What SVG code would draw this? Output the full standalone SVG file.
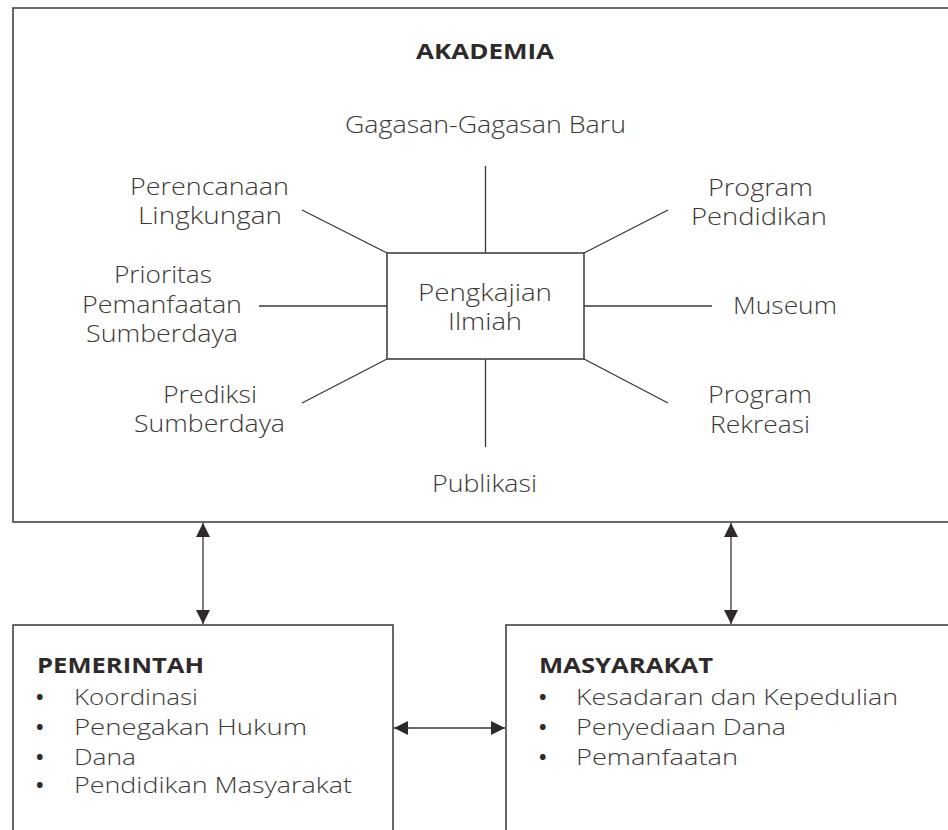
<svg xmlns="http://www.w3.org/2000/svg" width="948" height="830" viewBox="0 0 948 830">
<style>
.box{fill:#fff;stroke:#3a3636;stroke-width:1.5}
.ln{stroke:#3a3636;stroke-width:1.3;fill:none}
text{font-family:"Open Sans","Noto Sans",sans-serif}
.t{font-weight:300;font-size:23px;fill:#3d3939}
.li{font-weight:300;font-size:22px;fill:#3d3939}
.bu{font-weight:700;font-size:20px;fill:#2e2a2a}
.b{font-weight:700;font-size:22px;fill:#2e2a2a}
</style>
<defs>
<marker id="ah" viewBox="0 0 14 14" refX="14" refY="7" markerWidth="14" markerHeight="14" markerUnits="userSpaceOnUse" orient="auto-start-reverse">
<path d="M0,0 L14,7 L0,14 z" fill="#2e2a2a"/>
</marker>
</defs>
<rect width="948" height="830" fill="#fff"/>
<g id="akademia">
<rect class="box" x="13" y="8" width="950" height="514"/>
<text class="b" x="416" y="59" textLength="138" lengthAdjust="spacingAndGlyphs">AKADEMIA</text>
</g>
<g id="pengkajian">
<rect class="box" x="387" y="253" width="197" height="106"/>
<text class="t" x="418" y="301" textLength="134" lengthAdjust="spacingAndGlyphs">Pengkajian</text>
<text class="t" x="448" y="330" textLength="74" lengthAdjust="spacingAndGlyphs">Ilmiah</text>
</g>
<g id="gagasan"><text class="t" x="345" y="133" textLength="281" lengthAdjust="spacingAndGlyphs">Gagasan-Gagasan Baru</text></g>
<g id="perencanaan"><text class="t" x="130" y="195" textLength="159" lengthAdjust="spacingAndGlyphs">Perencanaan</text><text class="t" x="138" y="224" textLength="144" lengthAdjust="spacingAndGlyphs">Lingkungan</text></g>
<g id="prioritas"><text class="t" x="114" y="283" textLength="98" lengthAdjust="spacingAndGlyphs">Prioritas</text><text class="t" x="82" y="313" textLength="160" lengthAdjust="spacingAndGlyphs">Pemanfaatan</text><text class="t" x="86" y="342" textLength="152" lengthAdjust="spacingAndGlyphs">Sumberdaya</text></g>
<g id="prediksi"><text class="t" x="163" y="403" textLength="94" lengthAdjust="spacingAndGlyphs">Prediksi</text><text class="t" x="134" y="432" textLength="151" lengthAdjust="spacingAndGlyphs">Sumberdaya</text></g>
<g id="program-pendidikan"><text class="t" x="708" y="196" textLength="105" lengthAdjust="spacingAndGlyphs">Program</text><text class="t" x="691" y="225" textLength="136" lengthAdjust="spacingAndGlyphs">Pendidikan</text></g>
<g id="museum"><text class="t" x="733" y="314" textLength="104" lengthAdjust="spacingAndGlyphs">Museum</text></g>
<g id="program-rekreasi"><text class="t" x="708" y="403" textLength="104" lengthAdjust="spacingAndGlyphs">Program</text><text class="t" x="710" y="433" textLength="100" lengthAdjust="spacingAndGlyphs">Rekreasi</text></g>
<g id="publikasi"><text class="t" x="432" y="492" textLength="105" lengthAdjust="spacingAndGlyphs">Publikasi</text></g>
<g id="pemerintah">
<rect class="box" x="13" y="625" width="380" height="230"/>
<text class="b" x="37" y="673" textLength="167" lengthAdjust="spacingAndGlyphs">PEMERINTAH</text>
<text class="bu" x="36" y="704">•</text><text class="li" x="74" y="705" textLength="124" lengthAdjust="spacingAndGlyphs">Koordinasi</text>
<text class="bu" x="36" y="734">•</text><text class="li" x="74" y="735" textLength="233" lengthAdjust="spacingAndGlyphs">Penegakan Hukum</text>
<text class="bu" x="36" y="764">•</text><text class="li" x="74" y="765" textLength="62" lengthAdjust="spacingAndGlyphs">Dana</text>
<text class="bu" x="36" y="792">•</text><text class="li" x="74" y="793" textLength="278" lengthAdjust="spacingAndGlyphs">Pendidikan Masyarakat</text>
</g>
<g id="masyarakat">
<rect class="box" x="506" y="625" width="460" height="230"/>
<text class="b" x="539" y="673" textLength="174" lengthAdjust="spacingAndGlyphs">MASYARAKAT</text>
<text class="bu" x="539" y="704">•</text><text class="li" x="576" y="705" textLength="322" lengthAdjust="spacingAndGlyphs">Kesadaran dan Kepedulian</text>
<text class="bu" x="539" y="734">•</text><text class="li" x="576" y="735" textLength="210" lengthAdjust="spacingAndGlyphs">Penyediaan Dana</text>
<text class="bu" x="539" y="764">•</text><text class="li" x="576" y="765" textLength="162" lengthAdjust="spacingAndGlyphs">Pemanfaatan</text>
</g>
<g id="connectors">
<line class="ln" x1="485.5" y1="166" x2="485.5" y2="253"/>
<line class="ln" x1="485.5" y1="359" x2="485.5" y2="447"/>
<line class="ln" x1="387" y1="253" x2="302" y2="210"/>
<line class="ln" x1="584" y1="253" x2="668" y2="210"/>
<line class="ln" x1="387" y1="359" x2="302" y2="403"/>
<line class="ln" x1="584" y1="359" x2="668" y2="403"/>
<line class="ln" x1="259" y1="306" x2="387" y2="306"/>
<line class="ln" x1="584" y1="306" x2="712" y2="306"/>
<line class="ln" x1="203" y1="523" x2="203" y2="624" marker-start="url(#ah)" marker-end="url(#ah)"/>
<line class="ln" x1="731" y1="523" x2="731" y2="624" marker-start="url(#ah)" marker-end="url(#ah)"/>
<line class="ln" x1="394" y1="728" x2="505" y2="728" marker-start="url(#ah)" marker-end="url(#ah)"/>
</g>
</svg>
